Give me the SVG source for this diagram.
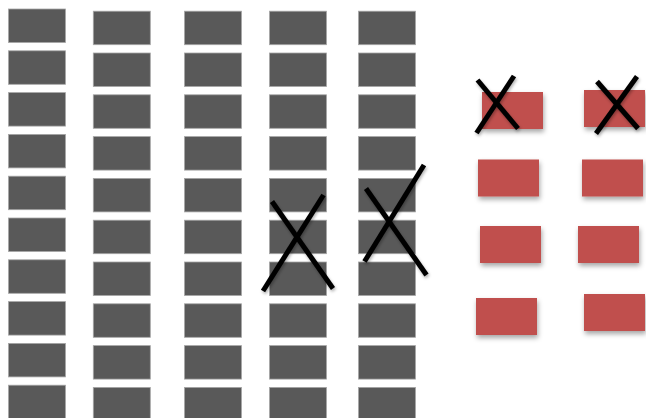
<svg xmlns="http://www.w3.org/2000/svg" width="646" height="418" viewBox="0 0 646 418">
<defs>
<style>
.g{fill:#595959;stroke:#a6a6a6;stroke-width:0.8}
.r{fill:#c0504d;filter:url(#sh)}
.x{stroke:#000;stroke-width:5;stroke-linecap:butt;fill:none;filter:url(#shx)}
</style>
<filter id="sh" x="-20%" y="-20%" width="150%" height="160%">
<feDropShadow dx="1" dy="3" stdDeviation="2.5" flood-color="#000" flood-opacity="0.35"/>
</filter>
<filter id="shx" x="-20%" y="-20%" width="150%" height="150%">
<feDropShadow dx="1" dy="2" stdDeviation="1.5" flood-color="#000" flood-opacity="0.3"/>
</filter>
<rect id="gr" width="57" height="33.5" class="g"/>
</defs>
<rect width="646" height="418" fill="#fff"/>
<g id="col1">
<use href="#gr" x="8.5" y="9"/><use href="#gr" x="8.5" y="50.8"/><use href="#gr" x="8.5" y="92.6"/><use href="#gr" x="8.5" y="134.4"/><use href="#gr" x="8.5" y="176.2"/><use href="#gr" x="8.5" y="218"/><use href="#gr" x="8.5" y="259.8"/><use href="#gr" x="8.5" y="301.6"/><use href="#gr" x="8.5" y="343.4"/><use href="#gr" x="8.5" y="385.2"/>
</g>
<g id="col2">
<use href="#gr" x="93.3" y="11.2"/><use href="#gr" x="93.3" y="53"/><use href="#gr" x="93.3" y="94.8"/><use href="#gr" x="93.3" y="136.6"/><use href="#gr" x="93.3" y="178.4"/><use href="#gr" x="93.3" y="220.2"/><use href="#gr" x="93.3" y="262"/><use href="#gr" x="93.3" y="303.8"/><use href="#gr" x="93.3" y="345.6"/><use href="#gr" x="93.3" y="387.4"/>
</g>
<g id="col3">
<use href="#gr" x="184.5" y="11.2"/><use href="#gr" x="184.5" y="53"/><use href="#gr" x="184.5" y="94.8"/><use href="#gr" x="184.5" y="136.6"/><use href="#gr" x="184.5" y="178.4"/><use href="#gr" x="184.5" y="220.2"/><use href="#gr" x="184.5" y="262"/><use href="#gr" x="184.5" y="303.8"/><use href="#gr" x="184.5" y="345.6"/><use href="#gr" x="184.5" y="387.4"/>
</g>
<g id="col4">
<use href="#gr" x="269.5" y="11.2"/><use href="#gr" x="269.5" y="53"/><use href="#gr" x="269.5" y="94.8"/><use href="#gr" x="269.5" y="136.6"/><use href="#gr" x="269.5" y="178.4"/><use href="#gr" x="269.5" y="220.2"/><use href="#gr" x="269.5" y="262"/><use href="#gr" x="269.5" y="303.8"/><use href="#gr" x="269.5" y="345.6"/><use href="#gr" x="269.5" y="387.4"/>
</g>
<g id="col5">
<use href="#gr" x="358.5" y="11.2"/><use href="#gr" x="358.5" y="53"/><use href="#gr" x="358.5" y="94.8"/><use href="#gr" x="358.5" y="136.6"/><use href="#gr" x="358.5" y="178.4"/><use href="#gr" x="358.5" y="220.2"/><use href="#gr" x="358.5" y="262"/><use href="#gr" x="358.5" y="303.8"/><use href="#gr" x="358.5" y="345.6"/><use href="#gr" x="358.5" y="387.4"/>
</g>
<g id="red">
<rect class="r" x="482" y="92" width="61" height="37"/>
<rect class="r" x="584" y="90" width="61" height="37"/>
<rect class="r" x="478" y="159.5" width="61" height="37"/>
<rect class="r" x="582" y="159.5" width="61" height="37"/>
<rect class="r" x="480" y="226" width="61" height="37"/>
<rect class="r" x="578" y="226" width="61" height="37"/>
<rect class="r" x="476" y="298" width="61" height="37"/>
<rect class="r" x="584" y="294" width="61" height="37"/>
</g>
<g id="crosses">
<line class="x" x1="272" y1="201.5" x2="333" y2="288.5"/>
<line class="x" x1="323.5" y1="195" x2="263" y2="291"/>
<line class="x" x1="424" y1="165" x2="364.5" y2="261.5"/>
<line class="x" x1="366" y1="188.5" x2="426.5" y2="275"/>
<line class="x" x1="477.5" y1="80" x2="518" y2="128.5"/>
<line class="x" x1="514" y1="76" x2="476.5" y2="133"/>
<line class="x" x1="597" y1="81.5" x2="638" y2="128.5"/>
<line class="x" x1="637" y1="76.5" x2="596" y2="133.5"/>
</g>
</svg>
